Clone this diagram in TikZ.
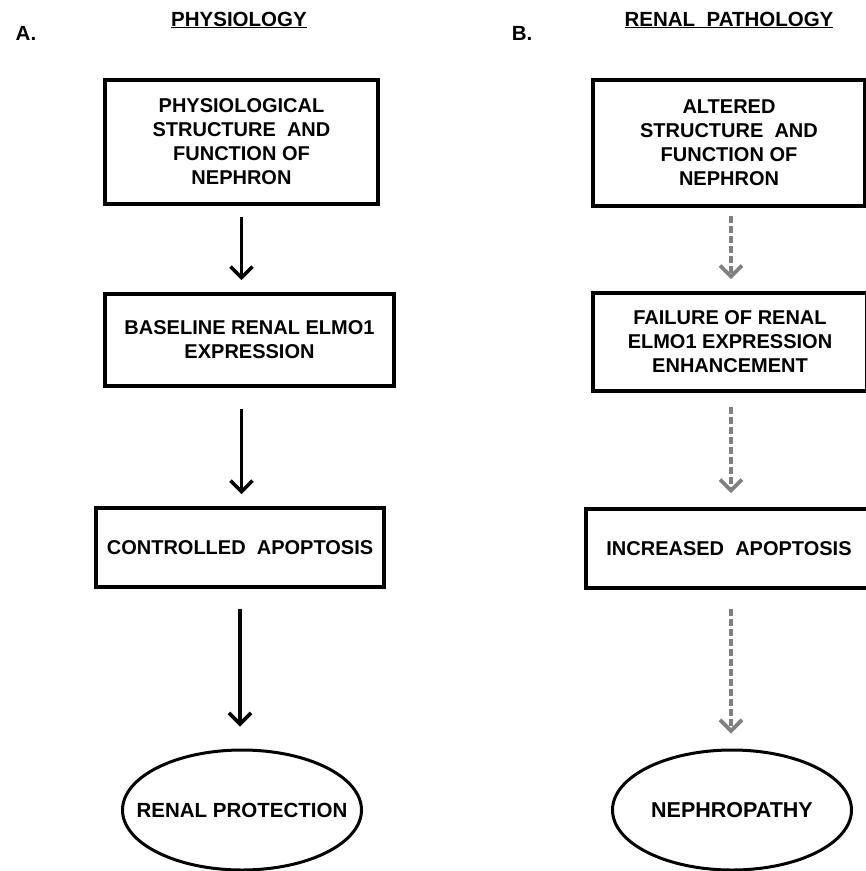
\documentclass[tikz,border=0pt]{standalone}
\usepackage{fontspec}
\setmainfont{Liberation Sans}
\usetikzlibrary{shapes.geometric,arrows.meta}
\begin{document}
\begin{tikzpicture}[x=1pt,y=-1pt,
  txt/.style={font=\bfseries\fontsize{20}{24}\selectfont, align=center, inner sep=0pt},
  stepbox/.style={txt, draw=black, line width=3.6pt, rectangle},
  endoval/.style={draw=black, line width=3pt, ellipse, inner sep=0pt, minimum width=239pt, minimum height=120pt},
  solidarr/.style={draw=black, line width=3.2pt, -{Straight Barb[length=11pt,width=22pt,line width=3.6pt]}},
  dasharr/.style={draw=black!50, line width=3.6pt, dash pattern=on 7pt off 3pt, -{Straight Barb[length=11pt,width=22pt,line width=3.8pt]}},
  lbl/.style={font=\bfseries\fontsize{20.5}{24}\selectfont, inner sep=0pt}
]
\useasboundingbox (0,0) rectangle (866,871);
\fill[white] (0,0) rectangle (866,871);

% headers
\node[lbl] (la) at (26,33) {A.};
\node[lbl] (lb) at (522,33) {B.};
\node[lbl] (ha) at (239,20) {\underline{PHYSIOLOGY}};
\node[lbl] (hb) at (729,20) {\underline{RENAL\ \ PATHOLOGY}};

% column A
\node[stepbox, minimum width=273pt, minimum height=124pt] (a1) at (241.5,142) {PHYSIOLOGICAL\\STRUCTURE\ \ AND\\FUNCTION OF\\NEPHRON};
\node[stepbox, minimum width=289pt, minimum height=92pt] (a2) at (249.5,340) {BASELINE RENAL ELMO1\\EXPRESSION};
\node[stepbox, minimum width=288pt, minimum height=79pt] (a3) at (240,547.5) {CONTROLLED\ \ APOPTOSIS};
\node[endoval, label={[txt, font=\bfseries\fontsize{20.5}{24}\selectfont]center:RENAL PROTECTION}] (a4) at (242,810) {};

\draw[solidarr, shorten <=11pt, shorten >=12pt] (a1.south) -- (a1.south |- a2.north);
\draw[solidarr, shorten <=21pt, shorten >=12pt] (a1.south |- a2.south) -- (a1.south |- a3.north);
\draw[solidarr, shorten <=20pt, shorten >=22pt] (a3.south) -- (a3.south |- a4.north);

% column B
\node[stepbox, minimum width=272pt, minimum height=126pt] (b1) at (729,143) {ALTERED\\STRUCTURE\ \ AND\\FUNCTION OF\\NEPHRON};
\node[stepbox, minimum width=274pt, minimum height=98pt] (b2) at (730,342) {FAILURE OF RENAL\\ELMO1 EXPRESSION\\ENHANCEMENT};
\node[stepbox, minimum width=286pt, minimum height=79pt] (b3) at (729,548.5) {INCREASED\ \ APOPTOSIS};
\node[endoval, label={[txt, font=\bfseries\fontsize{21.5}{24}\selectfont]center:NEPHROPATHY}] (b4) at (732,810) {};

\draw[dasharr, shorten <=8pt, shorten >=12pt] (b1.south) ++(2,0) coordinate (bs1) -- (bs1 |- b2.north);
\draw[dasharr, shorten <=14pt, shorten >=14pt] (bs1 |- b2.south) -- (bs1 |- b3.north);
\draw[dasharr, shorten <=19pt, shorten >=15pt] (bs1 |- b3.south) -- (bs1 |- b4.north);
\end{tikzpicture}
\end{document}
